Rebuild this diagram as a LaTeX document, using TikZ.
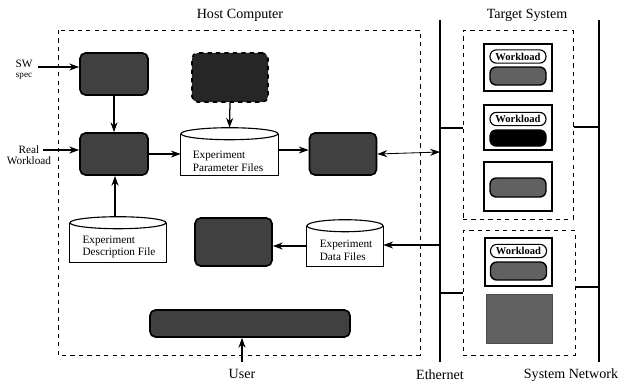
\documentclass[tikz,border=0pt]{standalone}
\usepackage{fontspec}
\setmainfont{Liberation Serif}
\usetikzlibrary{arrows.meta,calc}
\tikzset{
  darkbox/.style={draw,line width=1.2pt,rounded corners=4pt,fill=black!75},
  pill/.style={draw,line width=0.8pt,rounded corners=4.5pt,minimum width=1.4cm,inner sep=0pt},
  darkpill/.style={pill,fill=black!62,line width=1pt},
  frame/.style={draw,line width=0.8pt,fill=white},
  store/.style={minimum width=2.4cm,minimum height=1cm,inner sep=0pt},
  storetext/.style={font=\fontsize{8}{9}\selectfont,align=left},
  area/.style={draw,dashed,line width=0.7pt},
  bus/.style={line width=1.6pt},
  flow/.style={-{Stealth[length=7pt,width=5pt]},line width=0.9pt},
  lbl/.style={font=\fontsize{8}{9}\selectfont,align=center},
  title/.style={font=\fontsize{10}{12}\selectfont}
}
% draws a file store (flat bottom, elliptic top) round a node
\newcommand{\filestore}[2]{%
  \draw[line width=0.8pt,fill=white] (#1.north west) -- (#1.south west) -- (#1.south east) -- (#1.north east);
  \draw[line width=0.8pt,fill=white] (#1.north) ellipse [x radius=#2,y radius=0.15cm];
}
\begin{document}
\begin{tikzpicture}[x=0.025cm,y=-0.025cm]
\useasboundingbox (0,0) rectangle (624,383);

% frames
\draw[area] (58,30) rectangle (420,355);
\node[area,minimum width=2.75cm,minimum height=4.7cm] (tgt1) at (518,125) {};
\node[area,minimum width=2.8cm,minimum height=3.1cm] (tgt2) at (519,293) {};
\node[title] (host) at (240,15) {Host Computer};
\node[title] (target) at (527,15) {Target System};

% networks
\coordinate (eth top) at (440,20);
\coordinate (eth bot) at (440,362);
\coordinate (sys top) at (599,20);
\coordinate (sys bot) at (599,362);
\draw[bus] (eth top) -- (eth bot);
\draw[bus] (sys top) -- (sys bot);
\node[title] (ethlbl) at (440,375) {Ethernet};
\node[title,anchor=east] (syslbl) at (623,375) {System Network};

% host side
\node[darkbox,minimum width=1.7cm,minimum height=1.05cm] (spec) at (114,74) {};
\node[darkbox,minimum width=1.7cm,minimum height=1.05cm] (gen) at (114,154) {};
\node[darkbox,dashed,fill=black!85,minimum width=1.9cm,minimum height=1.225cm] (lib) at (230,77.5) {};
\node[darkbox,minimum width=1.675cm,minimum height=1.05cm] (ctrl) at (343,154) {};
\node[darkbox,minimum width=1.925cm,minimum height=1.2cm] (anal) at (233.5,242) {};
\node[darkbox,minimum width=5cm,minimum height=0.675cm] (ui) at (250,323.5) {};

\node[store,minimum width=2.425cm,minimum height=1.025cm] (param) at (229.5,154.5) {};
\filestore{param}{1.2125cm}
\node[storetext] at (228,161) {Experiment\\Parameter Files};

\node[store,minimum height=0.975cm] (desc) at (118,242.5) {};
\filestore{desc}{1.2cm}
\node[storetext] at (119,247) {Experiment\\Description File};

\node[store,minimum width=1.9cm] (data) at (345,246) {};
\filestore{data}{0.95cm}
\node[storetext] at (346,250) {Experiment\\Data Files};

% inputs
\node[lbl] (sw) at (24,70) {SW\\[-2pt]{\fontsize{6.5}{7}\selectfont spec}};
\node[lbl] (real) at (29,155) {Real\\[-1pt]Workload};
\node[title] (user) at (242,374) {User};
\coordinate (swin) at (38,67);
\coordinate (realin) at (43,150);
\coordinate (userin) at (242,362);
\coordinate (paramout) at (278,150);

% target side
\node[frame,minimum width=1.7cm,minimum height=1.175cm] (t1) at (518,67.5) {};
\node[pill,minimum height=0.33cm,font=\fontsize{7.5}{8}\selectfont\bfseries] (w1) at (518,56.5) {Workload};
\node[darkpill,minimum height=0.45cm] (p1) at (518,76) {};
\node[frame,minimum width=1.7cm,minimum height=1.125cm] (t2) at (518,127.5) {};
\node[pill,minimum height=0.33cm,font=\fontsize{7.5}{8}\selectfont\bfseries] (w2) at (518,119) {Workload};
\node[darkpill,fill=black,minimum height=0.4cm] (p2) at (518,138) {};
\node[frame,minimum width=1.7cm,minimum height=1.225cm] (t3) at (518,186.5) {};
\node[darkpill,minimum height=0.475cm] (p3) at (518,187.5) {};
\node[frame,minimum width=1.675cm,minimum height=1.2cm] (t4) at (518.5,262) {};
\node[pill,minimum height=0.33cm,font=\fontsize{7.5}{8}\selectfont\bfseries] (w4) at (518.5,251) {Workload};
\node[darkpill,minimum height=0.45cm] (p4) at (518.5,271) {};
\node[fill=black!62,draw=black!70,minimum width=1.65cm,minimum height=1.225cm] (t5) at (519,318.5) {};

% connectors
\draw[flow] (swin) -- (swin -| spec.west);
\draw[flow] (realin) -- (realin -| gen.west);
\draw[flow] (spec) -- (gen);
\draw[flow] (lib.south) -- ($(param.north)+(0,-6)$);
\draw[flow] (gen.east) -- (gen.east -| param.west);
\draw[flow] (paramout) -- (paramout -| ctrl.west);
\draw[flow] ($(desc.north)+(-3,-6)$) -- ($(gen.south)+(1,0)$);
\coordinate (eth ctrl) at (440,152);
\coordinate (eth data) at (440,245);
\draw[{Stealth[length=7pt,width=5pt]}-{Stealth[length=7pt,width=5pt]},line width=0.6pt] (ctrl.east) -- (eth ctrl);
\draw[flow] (eth data) -- (eth data -| data.east);
\draw[flow] (data.west) -- (data.west -| anal.east);
\draw[flow] (userin) -- (userin |- ui.south);

\coordinate (eth t1) at (440,128);
\coordinate (sys t1) at (599,127);
\coordinate (eth t2) at (440,293);
\coordinate (sys t2) at (599,287);
\draw[bus,line width=1.2pt] (eth t1) -- (eth t1 -| tgt1.west);
\draw[bus,line width=1.2pt] (sys t1) -- (sys t1 -| tgt1.east);
\draw[bus,line width=1.2pt] (eth t2) -- (eth t2 -| tgt2.west);
\draw[bus,line width=1.2pt] (sys t2) -- (sys t2 -| tgt2.east);
\end{tikzpicture}
\end{document}
